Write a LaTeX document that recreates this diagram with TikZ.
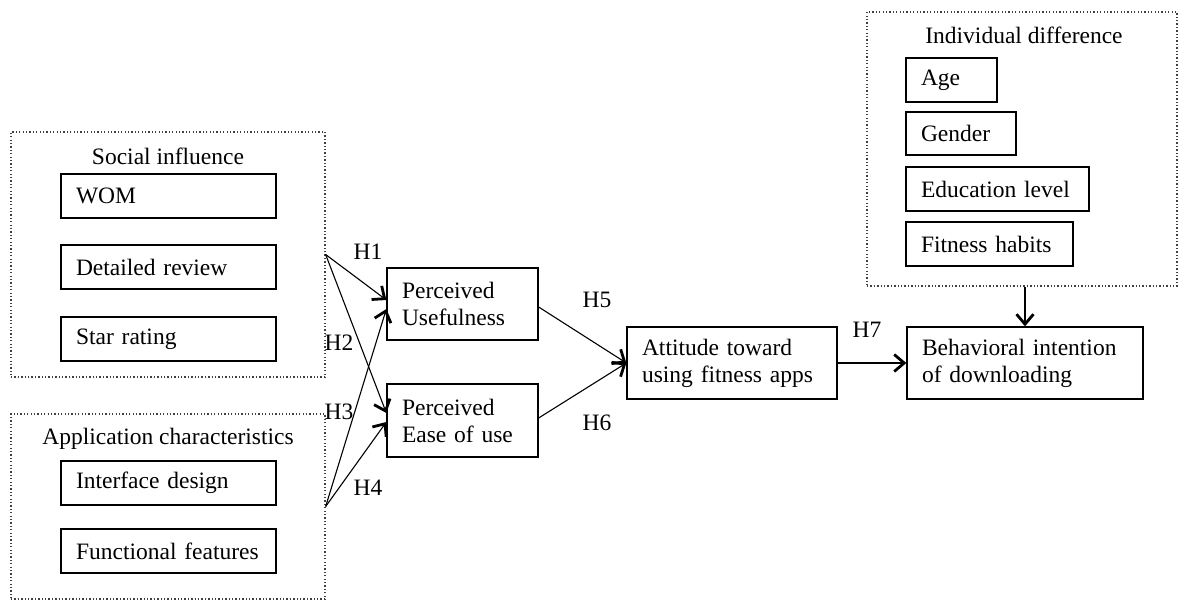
\documentclass[tikz,border=0pt]{standalone}
\usepackage{fontspec}
\setmainfont{Liberation Serif}
\usetikzlibrary{arrows.meta}
\begin{document}
\begin{tikzpicture}[x=1pt,y=-1pt,
  txt/.style={font=\fontsize{23.5}{27}\selectfont, inner sep=0pt},
  box/.style={txt, draw, line width=1.3pt, rectangle, inner xsep=15pt, inner ysep=0pt, align=left, anchor=center},
  grp/.style={draw=black!75, line width=1.3pt, dash pattern=on 1.3pt off 2.1pt, rectangle, inner sep=0pt, anchor=center},
  conn/.style={line width=1.1pt, -{Straight Barb[length=10pt,width=17pt,line width=2.8pt]}},
  hlab/.style={txt, anchor=center}]
\useasboundingbox (0,0) rectangle (1183,601);

% group boxes
\node[grp, minimum width=314pt, minimum height=245pt] (social) at (168,254.5) {};
\node[grp, minimum width=314pt, minimum height=185pt] (appl) at (168,506.5) {};
\node[grp, minimum width=310pt, minimum height=274pt] (indiv) at (1022,149) {};

% group titles
\node[txt] (tsocial) at (168,156) {Social influence};
\node[txt] (tappl) at (168,439) {Application characteristics};
\node[txt] (tindiv) at (1024,35) {Individual difference};

% inner boxes
\node[box, text width=185pt, minimum height=44pt] (wom) at (168.5,196) {WOM};
\node[box, text width=185pt, minimum height=44pt] (review) at (168.5,267) {Detailed review};
\node[box, text width=185pt, minimum height=44pt] (star) at (168.5,339) {Star rating};
\node[box, text width=185pt, minimum height=44pt] (iface) at (168.5,483) {Interface design};
\node[box, text width=185pt, minimum height=44pt] (func) at (168.5,551) {Functional features};

\node[box, text width=61pt, minimum height=44pt] (age) at (951.5,80) {Age};
\node[box, text width=80pt, minimum height=43pt] (gender) at (961,133.5) {Gender};
\node[box, text width=153pt, minimum height=44pt] (edu) at (997.5,189) {Education level};
\node[box, text width=137pt, minimum height=44pt] (habits) at (989.5,244) {Fitness habits};

% main constructs
\node[box, text width=121pt, minimum height=72pt] (pu) at (462.5,304) {Perceived\\Usefulness};
\node[box, text width=121pt, minimum height=73pt] (pe) at (462.5,420.5) {Perceived\\Ease of use};
\node[box, text width=180pt, minimum height=72pt] (att) at (732,363) {Attitude toward\\using fitness apps};
\node[box, text width=206pt, minimum height=72pt] (bi) at (1025,363) {Behavioral intention\\of downloading};

% connectors
\draw[conn] (social.east) -- ([yshift=4pt]pu.west);
\draw[conn] (social.east) -- ([yshift=7.5pt]pe.west);
\draw[conn] (appl.east) -- ([yshift=-5pt]pu.west);
\draw[conn] (appl.east) -- ([yshift=-1.5pt]pe.west);
\draw[conn] ([yshift=-3pt]pu.east) -- (att.west);
\draw[conn] ([yshift=2.5pt]pe.east) -- (att.west);
\draw[conn] (att.east) -- (bi.west);
\draw[conn] (indiv.south -| bi.north) -- (bi.north);

% hypothesis labels
\node[hlab] (h1) at (368,252) {H1};
\node[hlab] (h2) at (339,343) {H2};
\node[hlab] (h3) at (339,412) {H3};
\node[hlab] (h4) at (368,488) {H4};
\node[hlab] (h5) at (597,300) {H5};
\node[hlab] (h6) at (597,423) {H6};
\node[hlab] (h7) at (867,330) {H7};
\end{tikzpicture}
\end{document}
